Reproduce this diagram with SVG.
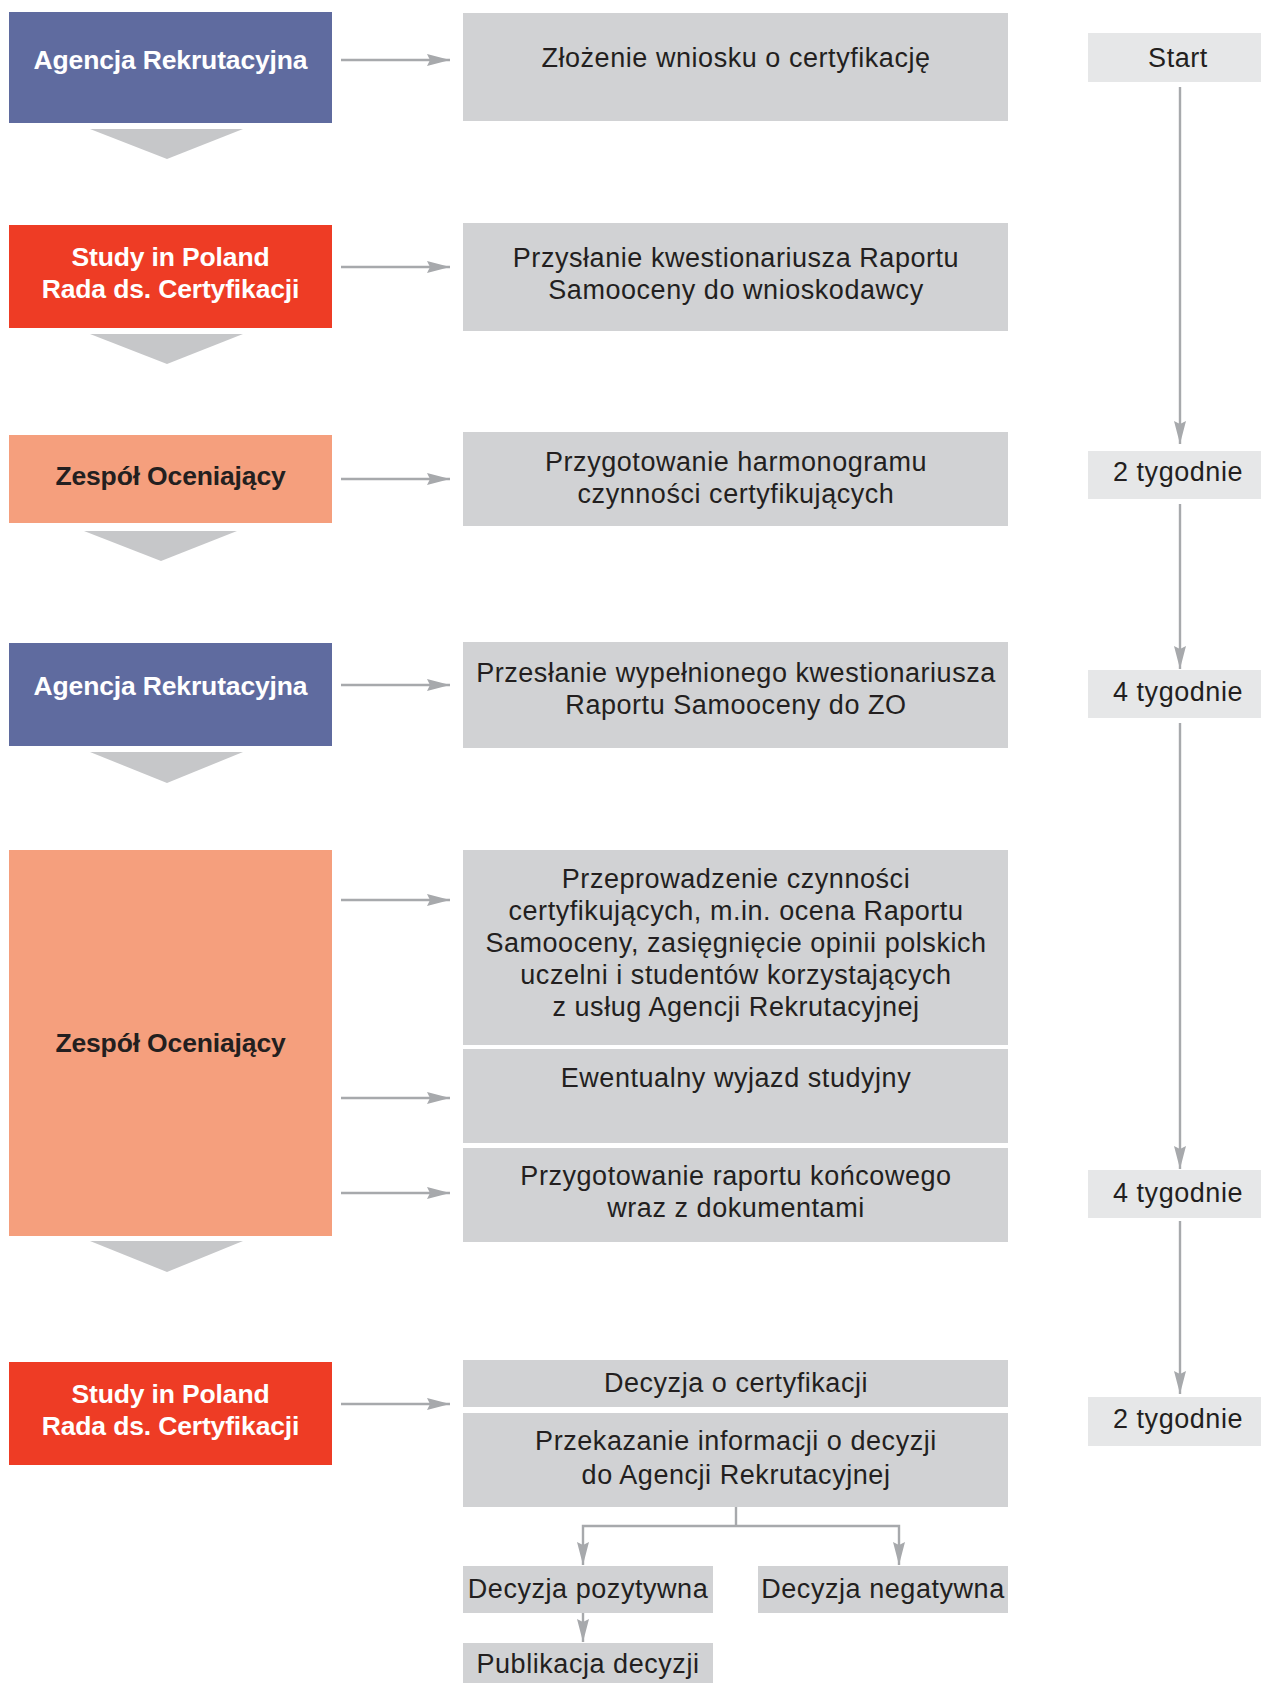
<svg xmlns="http://www.w3.org/2000/svg" width="1261" height="1683" viewBox="0 0 1261 1683">
<defs>
<style>
.t{font-family:"Liberation Sans",Arial,Helvetica,sans-serif;font-size:27px;fill:#231f20;text-anchor:middle;letter-spacing:0.55px}
.b{font-family:"Liberation Sans",Arial,Helvetica,sans-serif;font-size:26.5px;font-weight:bold;text-anchor:middle;letter-spacing:-0.15px}
.w{fill:#ffffff}
.k{fill:#231f20}
.blue{fill:#5f6b9f}
.red{fill:#ee3c25}
.org{fill:#f59f7d}
.gray{fill:#d1d2d4}
.lite{fill:#e6e7e8}
.chev{fill:#c6c7c9}
.ln{stroke:#a7a9ac;stroke-width:2.4;fill:none}
.ar{marker-end:url(#ah)}
</style>
<marker id="ah" markerUnits="userSpaceOnUse" markerWidth="24" markerHeight="14" refX="23" refY="6.5" orient="auto">
<path d="M0,0.5 L23,6.5 L0,12.5 L3,6.5 Z" fill="#a7a9ac"/>
</marker>
</defs>
<rect width="1261" height="1683" fill="#ffffff"/>

<g id="connectors">
<line class="ln ar" x1="341" y1="60" x2="450" y2="60"/>
<line class="ln ar" x1="341" y1="267" x2="450" y2="267"/>
<line class="ln ar" x1="341" y1="479" x2="450" y2="479"/>
<line class="ln ar" x1="341" y1="685" x2="450" y2="685"/>
<line class="ln ar" x1="341" y1="900" x2="450" y2="900"/>
<line class="ln ar" x1="341" y1="1098" x2="450" y2="1098"/>
<line class="ln ar" x1="341" y1="1193" x2="450" y2="1193"/>
<line class="ln ar" x1="341" y1="1404" x2="450" y2="1404"/>
<line class="ln ar" x1="1180" y1="87" x2="1180" y2="444"/>
<line class="ln ar" x1="1180" y1="504" x2="1180" y2="669"/>
<line class="ln ar" x1="1180" y1="723" x2="1180" y2="1169"/>
<line class="ln ar" x1="1180" y1="1221" x2="1180" y2="1394"/>
<polyline class="ln" points="736,1507 736,1526"/>
<polyline class="ln ar" points="736,1526 583,1526 583,1565"/>
<polyline class="ln ar" points="736,1526 899,1526 899,1565"/>
<line class="ln ar" x1="583" y1="1613" x2="583" y2="1642"/>
</g>

<g id="chevrons">
<polygon class="chev" points="90,129 243,129 167,159"/>
<polygon class="chev" points="90,334 243,334 167,364"/>
<polygon class="chev" points="84,531 237,531 161,561"/>
<polygon class="chev" points="90,752 243,752 167,783"/>
<polygon class="chev" points="90,1241 243,1241 167,1272"/>
</g>

<g id="agencja1"><rect class="blue" x="9" y="12" width="323" height="111"/><text class="b w" x="170.5" y="69">Agencja Rekrutacyjna</text></g>
<g id="rada1"><rect class="red" x="9" y="225" width="323" height="103"/><text class="b w" x="170.5" y="266">Study in Poland</text><text class="b w" x="170.5" y="298">Rada ds. Certyfikacji</text></g>
<g id="zespol1"><rect class="org" x="9" y="435" width="323" height="88"/><text class="b k" x="170.5" y="485">Zespół Oceniający</text></g>
<g id="agencja2"><rect class="blue" x="9" y="643" width="323" height="103"/><text class="b w" x="170.5" y="695">Agencja Rekrutacyjna</text></g>
<g id="zespol2"><rect class="org" x="9" y="850" width="323" height="386"/><text class="b k" x="170.5" y="1052">Zespół Oceniający</text></g>
<g id="rada2"><rect class="red" x="9" y="1362" width="323" height="103"/><text class="b w" x="170.5" y="1403">Study in Poland</text><text class="b w" x="170.5" y="1435">Rada ds. Certyfikacji</text></g>

<g id="step1"><rect class="gray" x="463" y="13" width="545" height="108"/><text class="t" x="736" y="67">Złożenie wniosku o certyfikację</text></g>
<g id="step2"><rect class="gray" x="463" y="223" width="545" height="108"/><text class="t" x="736" y="267">Przysłanie kwestionariusza Raportu</text><text class="t" x="736" y="299">Samooceny do wnioskodawcy</text></g>
<g id="step3"><rect class="gray" x="463" y="432" width="545" height="94"/><text class="t" x="736" y="471">Przygotowanie harmonogramu</text><text class="t" x="736" y="503">czynności certyfikujących</text></g>
<g id="step4"><rect class="gray" x="463" y="642" width="545" height="106"/><text class="t" x="736" y="682">Przesłanie wypełnionego kwestionariusza</text><text class="t" x="736" y="714">Raportu Samooceny do ZO</text></g>
<g id="step5"><rect class="gray" x="463" y="850" width="545" height="195"/><text class="t" x="736" y="888">Przeprowadzenie czynności</text><text class="t" x="736" y="920">certyfikujących, m.in. ocena Raportu</text><text class="t" x="736" y="952">Samooceny, zasięgnięcie opinii polskich</text><text class="t" x="736" y="984">uczelni i studentów korzystających</text><text class="t" x="736" y="1016">z usług Agencji Rekrutacyjnej</text></g>
<g id="step6"><rect class="gray" x="463" y="1049" width="545" height="94"/><text class="t" x="736" y="1087">Ewentualny wyjazd studyjny</text></g>
<g id="step7"><rect class="gray" x="463" y="1148" width="545" height="94"/><text class="t" x="736" y="1185">Przygotowanie raportu końcowego</text><text class="t" x="736" y="1217">wraz z dokumentami</text></g>
<g id="step8"><rect class="gray" x="463" y="1360" width="545" height="47"/><text class="t" x="736" y="1392">Decyzja o certyfikacji</text></g>
<g id="step9"><rect class="gray" x="463" y="1413" width="545" height="94"/><text class="t" x="736" y="1450">Przekazanie informacji o decyzji</text><text class="t" x="736" y="1484">do Agencji Rekrutacyjnej</text></g>
<g id="pozytywna"><rect class="gray" x="463" y="1566" width="250" height="47"/><text class="t" x="588" y="1598">Decyzja pozytywna</text></g>
<g id="negatywna"><rect class="gray" x="758" y="1566" width="250" height="47"/><text class="t" x="883" y="1598">Decyzja negatywna</text></g>
<g id="publikacja"><rect class="gray" x="463" y="1643" width="250" height="40"/><text class="t" x="588" y="1673">Publikacja decyzji</text></g>

<g id="start"><rect class="lite" x="1088" y="33" width="173" height="49"/><text class="t" x="1178" y="67">Start</text></g>
<g id="t2a"><rect class="lite" x="1088" y="451" width="173" height="48"/><text class="t" x="1178" y="481">2 tygodnie</text></g>
<g id="t4a"><rect class="lite" x="1088" y="670" width="173" height="48"/><text class="t" x="1178" y="701">4 tygodnie</text></g>
<g id="t4b"><rect class="lite" x="1088" y="1170" width="173" height="48"/><text class="t" x="1178" y="1202">4 tygodnie</text></g>
<g id="t2b"><rect class="lite" x="1088" y="1397" width="173" height="49"/><text class="t" x="1178" y="1428">2 tygodnie</text></g>
</svg>
